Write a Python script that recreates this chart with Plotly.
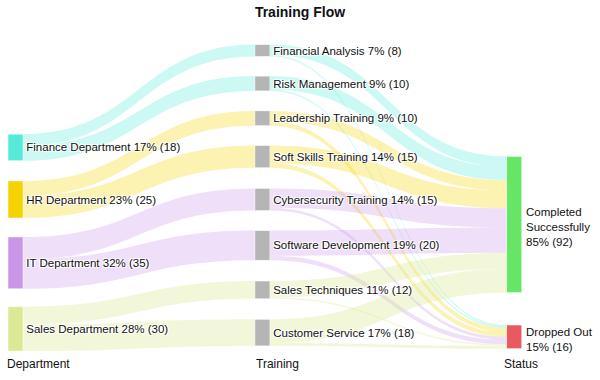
import plotly.graph_objects as go

departments = ["Finance Department", "HR Department", "IT Department", "Sales Department"]
dept_values = [18, 25, 35, 30]
trainings = ["Financial Analysis", "Risk Management", "Leadership Training", "Soft Skills Training",
             "Cybersecurity Training", "Software Development", "Sales Techniques", "Customer Service"]
training_dept = [0, 0, 1, 1, 2, 2, 3, 3]
training_values = [8, 10, 10, 15, 15, 20, 12, 18]
status_labels = ["Completed<br>Successfully", "Dropped Out"]
completed = [7, 9, 7, 12, 13, 17, 11, 16]
dropped = [1, 1, 3, 3, 2, 3, 1, 2]
column_titles = ["Department", "Training", "Status"]

total = sum(dept_values)
dept_colors = ["#55EBD8", "#F5D300", "#C996E8", "#DDE896"]
link_colors = ["rgba(85,235,215,0.3)", "rgba(245,211,0,0.3)", "rgba(201,150,232,0.3)", "rgba(221,232,150,0.35)"]
status_colors = ["#66E566", "#E85A5F"]
training_color = "#B5B5B5"
FONT = "Arial, Liberation Sans"

def lab(name, v, br=False):
    return f"{name}{'<br>' if br else ' '}{round(100*v/total)}% ({v})"

status_totals = [sum(completed), sum(dropped)]
status_text = [lab(n, v, True) for n, v in zip(status_labels, status_totals)]
labels = [lab(n, v) for n, v in zip(departments, dept_values)] + \
         [lab(n, v) for n, v in zip(trainings, training_values)] + \
         ["", ""]  # status labels drawn on the right as annotations
node_colors = dept_colors + [training_color] * len(trainings) + status_colors

# layout positions (node centres, normalised to the sankey domain)
dept_y = [0.337, 0.5065, 0.713, 0.928]
train_y = [0.0212, 0.1287, 0.242, 0.367, 0.5065, 0.656, 0.801, 0.940]
status_y = [0.588, 0.954]
node_x = [0.0146] * 4 + [0.495] * 8 + [0.985] * 2
node_y = dept_y + train_y + status_y

src, tgt, val, col = [], [], [], []
nd = len(departments)
nt = len(trainings)
for i, (d, v) in enumerate(zip(training_dept, training_values)):
    src.append(d); tgt.append(nd + i); val.append(v); col.append(link_colors[d])
for i, d in enumerate(training_dept):
    src.append(nd + i); tgt.append(nd + nt); val.append(completed[i]); col.append(link_colors[d])
    src.append(nd + i); tgt.append(nd + nt + 1); val.append(dropped[i]); col.append(link_colors[d])

fig = go.Figure(go.Sankey(
    arrangement="fixed",
    node=dict(label=labels, color=node_colors, pad=21, thickness=15, x=node_x, y=node_y,
              line=dict(color="white", width=0.5)),
    link=dict(source=src, target=tgt, value=val, color=col),
    textfont=dict(family=FONT, size=11.5, color="#111"),
))

for t, sy in zip(status_text, status_y):
    fig.add_annotation(text=t, x=1.004, y=1 - sy - 0.008, xref="paper", yref="paper",
                       xanchor="left", yanchor="middle", align="left", showarrow=False,
                       font=dict(family=FONT, size=11.5, color="#111"))

xs = [-0.006, 0.478, 0.961]
for t, x in zip(column_titles, xs):
    fig.add_annotation(text=t, x=x, y=-0.042, xref="paper", yref="paper", xanchor="left", yanchor="middle",
                       showarrow=False, font=dict(family=FONT, size=12, color="#111"))

fig.update_layout(
    width=600, height=380,
    margin=dict(l=8, r=78, t=44, b=29),
    title=dict(text="<b>Training Flow</b>", x=0.5, xanchor="center", y=0.982, yanchor="top",
               font=dict(family=FONT, size=14, color="#111")),
    paper_bgcolor="white",
)
fig.write_html("out.html", config={"displayModeBar": False},
               post_script="document.body.style.margin='0';")
